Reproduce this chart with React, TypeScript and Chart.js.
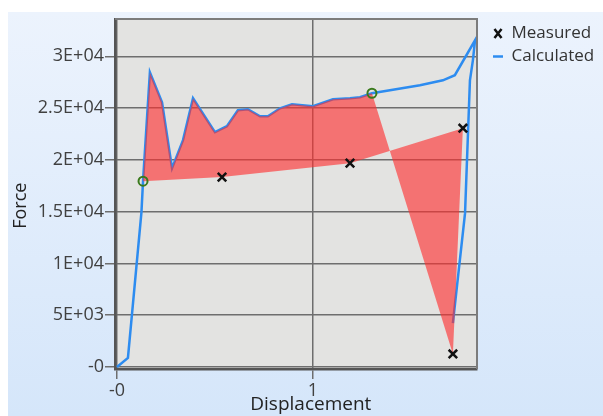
import React, { useEffect, useRef } from 'react';
import { Chart, registerables } from 'chart.js';

Chart.register(...registerables);

// ---- data ----
const calcX = [0, 0.056, 0.125, 0.133, 0.168, 0.23, 0.281, 0.337, 0.388, 0.5, 0.561, 0.617, 0.668, 0.73, 0.77, 0.832, 0.893, 1.0, 1.102, 1.189, 1.24, 1.301, 1.546, 1.663, 1.724, 1.827, 1.816, 1.801, 1.776, 1.714];
const calcY = [0, 870, 14950, 17940, 28460, 25560, 19200, 21900, 25950, 22670, 23250, 24790, 24890, 24210, 24210, 24980, 25370, 25180, 25850, 25950, 26040, 26430, 27200, 27680, 28170, 31540, 29610, 27680, 14850, 4240];
const measX = [0.536, 1.189, 1.765, 1.714];
const measY = [18330, 19680, 23050, 1250];
const matchIndex = [3, 21];

const yTickValues = [0, 5000, 10000, 15000, 20000, 25000, 30000];
const yTickLabels = ['-0', '5E+03', '1E+04', '1.5E+04', '2E+04', '2.5E+04', '3E+04'];
const xTickValues = [0, 1];
const xTickLabels = ['-0', '1'];
const seriesNames = ['Measured', 'Calculated'];
const xTitle = 'Displacement';
const yTitle = 'Force';

const FONT = '"Open Sans", sans-serif';
const W = 603;
const H = 416;
const PLOT_RIGHT = 477;

export default function App() {
  const ref = useRef<HTMLCanvasElement>(null);

  useEffect(() => {
    const canvas = ref.current;
    if (!canvas) return;

    const calcPts = calcX.map((x, i) => ({ x, y: calcY[i] }));
    const measPts = measX.map((x, i) => ({ x, y: measY[i] }));
    const matchPts = matchIndex.map((i) => calcPts[i]);
    const fillPts = [
      ...calcPts.slice(matchIndex[0], matchIndex[1] + 1),
      ...measPts.slice().reverse(),
    ];

    // legend width -> right padding so the plot ends where the reference's does
    const mctx = document.createElement('canvas').getContext('2d')!;
    mctx.font = `17px ${FONT}`;
    const maxTextW = Math.max(...seriesNames.map((n) => mctx.measureText(n).width));
    const legendW = 6 + 10 + 8.5 + maxTextW + 10;
    const padRight = Math.max(0, W - PLOT_RIGHT - legendW);

    const framePlugin = {
      id: 'frame',
      beforeDraw(chart: any) {
        const { ctx, chartArea: a } = chart;
        ctx.save();
        ctx.fillStyle = '#ffffff';
        ctx.fillRect(0, 0, W, H);
        const g = ctx.createLinearGradient(0, 12, 0, H);
        g.addColorStop(0, '#ecf3fd');
        g.addColorStop(1, '#d5e6fa');
        ctx.fillStyle = g;
        ctx.fillRect(8, 12, W - 8, H - 12);
        ctx.fillStyle = '#e3e3e1';
        ctx.fillRect(a.left, a.top, a.right - a.left, a.bottom - a.top);
        ctx.restore();
      },
      afterLayout(chart: any) {
        const lg = chart.legend;
        if (lg) {
          const dx = chart.chartArea.right + 10 - lg.left;
          lg.left += dx;
          lg.right += dx;
        }
      },
      afterDatasetsDraw(chart: any) {
        const { ctx, chartArea: a } = chart;
        ctx.save();
        ctx.strokeStyle = '#7c7c7c';
        ctx.lineWidth = 2;
        ctx.beginPath();
        ctx.moveTo(a.left, a.top);
        ctx.lineTo(a.right, a.top);
        ctx.lineTo(a.right, a.bottom);
        ctx.stroke();
        ctx.restore();
      },
    };

    const tickFont = { family: FONT, size: 18 };
    const gridOpts = { color: '#6e6e6e', lineWidth: 1.5, tickLength: 10, tickColor: '#6e6e6e', tickWidth: 1.5 };
    const borderOpts = { display: true, color: '#555555', width: 2.5 };

    const chart = new Chart(canvas, {
      type: 'line',
      data: {
        datasets: [
          {
            label: seriesNames[0],
            data: measPts,
            showLine: false,
            pointStyle: 'crossRot',
            pointRadius: 6,
            pointBorderWidth: 2.5,
            pointBorderColor: '#111111',
            borderColor: '#111111',
            backgroundColor: '#111111',
            order: 0,
          },
          {
            label: seriesNames[1],
            data: calcPts,
            borderColor: '#2d8cf0',
            backgroundColor: '#2d8cf0',
            borderWidth: 2.5,
            pointRadius: 0,
            pointStyle: 'line',
            pointBorderWidth: 2.5,
            pointBorderColor: '#2d8cf0',
            tension: 0,
            fill: false,
            order: 2,
          },
          {
            label: 'difference',
            data: fillPts,
            borderColor: 'rgba(0,0,0,0)',
            borderWidth: 1,
            backgroundColor: 'rgba(255, 45, 45, 0.62)',
            pointRadius: 0,
            tension: 0,
            fill: 'shape',
            order: 1,
          },
          {
            label: 'match',
            data: matchPts,
            showLine: false,
            pointStyle: 'circle',
            pointRadius: 4.5,
            pointBorderWidth: 2,
            pointBorderColor: '#3a7a1c',
            pointBackgroundColor: 'rgba(0,0,0,0)',
            order: 0,
          },
        ] as any,
      },
      options: {
        animation: false,
        responsive: false,
        devicePixelRatio: 1,
        layout: { padding: { top: 19, right: padRight, bottom: 0, left: 0 } },
        plugins: {
          legend: {
            position: 'right',
            align: 'start',
            labels: {
              usePointStyle: true,
              pointStyleWidth: 10,
              boxHeight: 9,
              padding: 6,
              color: '#333333',
              font: { family: FONT, size: 17 },
              filter: (item: any) => seriesNames.includes(item.text),
            },
          },
          tooltip: { enabled: false },
        },
        scales: {
          x: {
            type: 'linear',
            min: -0.01,
            max: 1.837,
            afterBuildTicks: (s: any) => {
              s.ticks = xTickValues.map((v) => ({ value: v }));
            },
            afterFit: (s: any) => {
              s.height = 47;
              s.paddingLeft = 0;
              s.paddingRight = 0;
            },
            ticks: {
              autoSkip: false,
              maxRotation: 0,
              padding: 1,
              color: '#404040',
              font: tickFont,
              callback: (v: any) => xTickLabels[xTickValues.indexOf(Number(v))],
            },
            grid: gridOpts,
            border: borderOpts,
            title: {
              display: true,
              text: '      ' + xTitle,
              color: '#222222',
              font: { family: FONT, size: 19 },
              padding: 0,
            },
          },
          y: {
            type: 'linear',
            min: -200,
            max: 33600,
            afterBuildTicks: (s: any) => {
              s.ticks = yTickValues.map((v) => ({ value: v }));
            },
            afterFit: (s: any) => {
              s.width = 115;
              s.paddingTop = 0;
              s.paddingBottom = 0;
            },
            ticks: {
              autoSkip: false,
              padding: 1,
              color: '#404040',
              font: tickFont,
              callback: (v: any) => yTickLabels[yTickValues.indexOf(Number(v))],
            },
            grid: gridOpts,
            border: borderOpts,
            title: {
              display: true,
              text: yTitle + '     ',
              color: '#222222',
              font: { family: FONT, size: 18 },
              padding: { top: 10, bottom: 0 },
            },
          },
        },
      } as any,
      plugins: [framePlugin],
    });

    return () => chart.destroy();
  }, []);

  return (
    <div style={{ position: 'absolute', left: 0, top: 0, width: W, height: H }}>
      <canvas ref={ref} width={W} height={H} style={{ display: 'block' }} />
    </div>
  );
}
